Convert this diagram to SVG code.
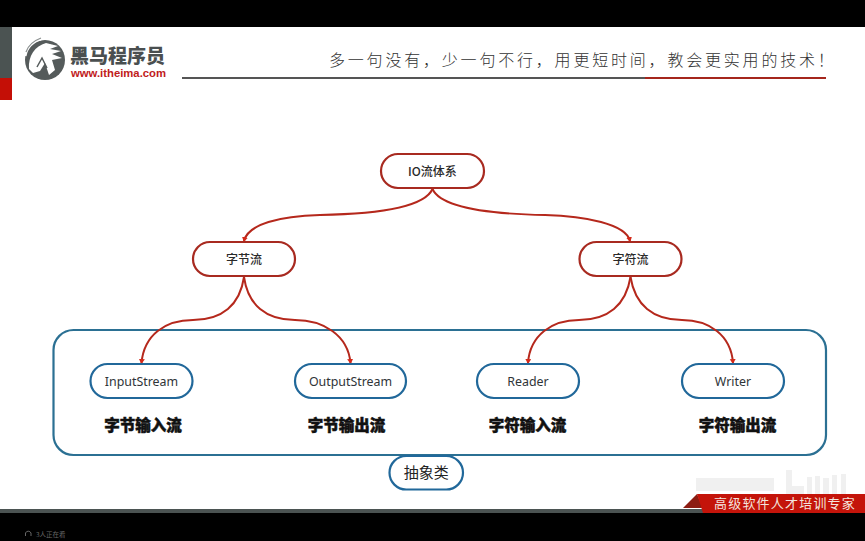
<svg xmlns="http://www.w3.org/2000/svg" width="865" height="541" viewBox="0 0 865 541">
<style>
.cjk{font-family:"Noto Sans CJK SC","Noto Sans",sans-serif}
.red{fill:#fff;stroke:#a82a20;stroke-width:2.2}
.blue{fill:#fff;stroke:#21689a;stroke-width:2.2}
.lbl{font-size:12px;fill:#2a2a2a;text-anchor:middle;font-weight:500}
.en{font-family:"Noto Sans","Open Sans",sans-serif;font-size:12.400px;fill:#2f3438;text-anchor:middle}
.sub{font-size:15.500px;font-weight:900;fill:#111;text-anchor:middle;stroke:#111;stroke-width:.5}
.edge{fill:none;stroke:#b5281c;stroke-width:2;marker-end:url(#arr)}
.wm{fill:#f0f0f0}
</style>
<defs>
<marker id="arr" markerWidth="7" markerHeight="7" refX="4" refY="3" orient="auto" markerUnits="userSpaceOnUse"><path d="M0 0L5 3L0 6Z" fill="#d42a1a"/></marker>
</defs>
<rect width="865" height="541" fill="#fff"/>
<rect width="865" height="27" fill="#000"/>
<rect y="509" width="865" height="4" fill="#4b5352"/>
<rect y="513" width="865" height="28" fill="#000"/>
<rect y="27" width="12" height="51" fill="#4b5352"/>
<rect y="78" width="12" height="22" fill="#c40f06"/>
<g id="logo">
<circle cx="45" cy="60" r="20" fill="#555b5b"/>
<path d="M41 39A21 21 0 0 0 25 56" fill="none" stroke="#fff" stroke-width="3"/>
<path d="M29 69C28 56 35 46 46 43L58 46L50 49L61 51L52 54L62 58L52 60L55 70L49 75L45 63L40 71L33 73Z" fill="#fff"/>
<path d="M37 67L42 58L47 68" fill="none" stroke="#555b5b" stroke-width="1.500"/>
<path d="M41 38C33 41 28 46 26 52" fill="none" stroke="#8a8f8f" stroke-width="1.200"/>
<text x="70" y="62.500" class="cjk" font-size="19" font-weight="900" fill="#4a4f50">黑马程序员</text>
<text x="71" y="77" font-family="'Liberation Sans',sans-serif" font-size="11.300" font-weight="700" fill="#c0201c">www.itheima.com</text>
</g>
<g id="header">
<text x="329" y="66" class="cjk" font-size="16" font-weight="300" letter-spacing="2.800" fill="#333">多一句没有，少一句不行，用更短时间，教会更实用的技术！</text>
<rect x="182" y="77" width="463" height="2" fill="#555"/>
<rect x="645" y="77" width="181" height="2" fill="#a5261c"/>
</g>
<g id="abstract-box"><rect x="53.500" y="330" width="772.500" height="125" rx="20" fill="none" stroke="#2b7093" stroke-width="2.200"/></g>
<g id="connectors">
<path class="edge" d="M432.500 189C424 208 375 214 320 215C280 216 248 224 244 241"/>
<path class="edge" d="M432.500 189C441 208 490 214 545 215C585 216 626 224 630 241"/>
<path class="edge" d="M244 277C240 305 222 320 193 320C165 320 144 335 141.500 363"/>
<path class="edge" d="M244 277C248 305 266 320 295 320C323 320 348 335 350.500 363"/>
<path class="edge" d="M630.500 277C626 305 608 320 579 320C552 320 530 335 528 363"/>
<path class="edge" d="M630.500 277C635 305 653 320 682 320C709 320 731 335 733 363"/>
</g>
<g id="io"><rect class="red" x="381" y="154" width="103" height="34" rx="17"/><text class="cjk lbl" x="432.500" y="175.500">IO流体系</text></g>
<g id="byte-stream"><rect class="red" x="193" y="242" width="102" height="34" rx="17"/><text class="cjk lbl" x="244" y="263.500">字节流</text></g>
<g id="char-stream"><rect class="red" x="579.500" y="242" width="102" height="34" rx="17"/><text class="cjk lbl" x="630.500" y="263.500">字符流</text></g>
<g id="input-stream"><rect class="blue" x="90.500" y="364" width="102" height="34" rx="17"/><text class="en" x="141.500" y="385.500">InputStream</text></g>
<g id="output-stream"><rect class="blue" x="295" y="364" width="111" height="34" rx="17"/><text class="en" x="350.500" y="385.500">OutputStream</text></g>
<g id="reader"><rect class="blue" x="477" y="364" width="102" height="34" rx="17"/><text class="en" x="528" y="385.500">Reader</text></g>
<g id="writer"><rect class="blue" x="682" y="364" width="102" height="34" rx="17"/><text class="en" x="733" y="385.500">Writer</text></g>
<g id="labels">
<text class="cjk sub" x="143" y="431">字节输入流</text>
<text class="cjk sub" x="346.500" y="431">字节输出流</text>
<text class="cjk sub" x="527.500" y="431">字符输入流</text>
<text class="cjk sub" x="737.500" y="431">字符输出流</text>
</g>
<g id="abstract-label"><rect x="389.500" y="456" width="73.500" height="33.500" rx="16.700" fill="#fff" stroke="#21689a" stroke-width="2.200"/><text class="cjk" x="426.300" y="478" font-size="15" fill="#222" text-anchor="middle">抽象类</text></g>
<g id="watermark">
<rect class="wm" x="696" y="478" width="78" height="13"/>
<rect class="wm" x="786" y="470" width="6" height="24"/><rect class="wm" x="792" y="486" width="12" height="8"/>
<rect class="wm" x="807" y="477" width="5" height="17"/><rect class="wm" x="815" y="476" width="5" height="18"/><rect class="wm" x="823" y="478" width="6" height="16"/><rect class="wm" x="832" y="475" width="5" height="19"/><rect class="wm" x="841" y="474" width="5" height="20"/>
</g>
<g id="banner">
<path d="M683 508L697 494L703 508Z" fill="#8c1c12"/>
<path d="M697 494H865V513H703Z" fill="#c4140a"/>
<text x="714" y="508" class="cjk" font-size="13" letter-spacing="1.200" fill="#f4e4de">高级软件人才培训专家</text>
</g>
<g id="viewers"><text x="36" y="537" class="cjk" font-size="6.500" fill="#666">3人正在看</text><path d="M25.500 536V533A3 3 0 0 1 31 533V536" fill="none" stroke="#666"/></g>
</svg>
